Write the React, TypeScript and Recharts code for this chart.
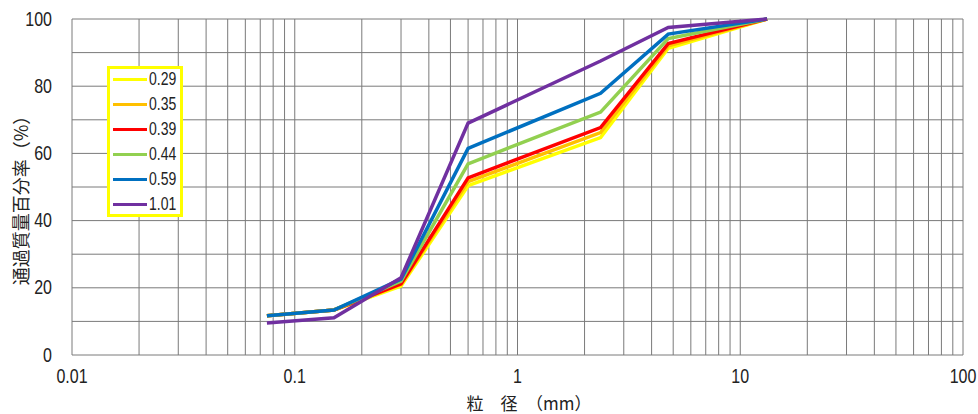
import React from "react";
import { LineChart, Line, XAxis, YAxis, ReferenceLine, Legend, Label } from "recharts";

// sieve sizes (mm)
const sizes = [0.075, 0.15, 0.3, 0.6, 2.36, 4.75, 13.2];

// passing percentage for each mix
const s029 = [11.7, 13.4, 20.5, 50.4, 64.7, 91.3, 100];
const s035 = [11.7, 13.4, 21.0, 51.6, 66.2, 92.0, 100];
const s039 = [11.7, 13.4, 21.2, 52.7, 67.7, 92.7, 100];
const s044 = [11.7, 13.4, 22.0, 56.9, 72.3, 94.2, 100];
const s059 = [11.7, 13.4, 22.6, 61.5, 77.9, 95.5, 100];
const s101 = [9.5, 11.1, 23.0, 69.0, 87.5, 97.5, 100];

const seriesNames = ["0.29", "0.35", "0.39", "0.44", "0.59", "1.01"];
const seriesColors = ["#ffff00", "#ffc000", "#ff0000", "#92d050", "#0070c0", "#7030a0"];
const seriesValues = [s029, s035, s039, s044, s059, s101];

const xTicks = [0.01, 0.1, 1, 10, 100];
const yTicks = [0, 20, 40, 60, 80, 100];
const yGrid = [0, 10, 20, 30, 40, 50, 60, 70, 80, 90, 100];
const decades = [0.01, 0.1, 1, 10];
const steps = [1, 2, 3, 4, 5, 6, 7, 8, 9];
const xGrid = [...decades.flatMap((d) => steps.map((s) => +(d * s).toPrecision(3))), 100];

const data = sizes.map((x, i) => {
  const row: Record<string, number> = { x };
  seriesNames.forEach((n, k) => (row["s" + k] = seriesValues[k][i]));
  return row;
});

const numFont = "'Liberation Sans', Arial, sans-serif";
const jpFont = "'Noto Sans CJK JP', sans-serif";
const gridColor = "#7a7a7a";
const textColor = "#222";

// the original uses a narrow face for numbers, so squeeze the digits a bit
const XTick = ({ x, payload }: any) => (
  <text
    transform={`translate(${x},383) scale(0.8,1)`}
    textAnchor="middle"
    fontFamily={numFont}
    fontSize={20}
    fill={textColor}
  >
    {String(payload.value)}
  </text>
);

const YTick = ({ y, payload }: any) => (
  <text
    transform={`translate(52,${y}) scale(0.8,1)`}
    textAnchor="end"
    dominantBaseline="central"
    fontFamily={numFont}
    fontSize={20}
    fill={textColor}
  >
    {String(payload.value)}
  </text>
);

function LegendBox() {
  return (
    <div
      style={{
        position: "relative",
        width: 76,
        height: 151,
        boxSizing: "border-box",
        border: "3px solid #ffff00",
        background: "#fff",
      }}
    >
      {seriesNames.map((n, i) => (
        <React.Fragment key={n}>
          <div
            style={{
              position: "absolute",
              left: 3,
              top: 8.5 + 25 * i,
              width: 34,
              height: 3.5,
              background: seriesColors[i],
            }}
          />
          <div
            style={{
              position: "absolute",
              left: 39,
              top: 0 + 25 * i,
              height: 20,
              lineHeight: "20px",
              fontFamily: numFont,
              fontSize: 17.5,
              color: textColor,
              transform: "scaleX(0.8)",
              transformOrigin: "left center",
            }}
          >
            {n}
          </div>
        </React.Fragment>
      ))}
    </div>
  );
}

export default function App() {
  return (
    <div style={{ position: "absolute", left: 0, top: 0, background: "#fff" }}>
      <LineChart width={978} height={414} data={data} margin={{ top: 19, right: 15, bottom: 29, left: 20 }}>
        <XAxis
          dataKey="x"
          type="number"
          scale="log"
          domain={[0.01, 100]}
          ticks={xTicks}
          interval={0}
          allowDataOverflow
          axisLine={false}
          tickLine={false}
          tickSize={0}
          height={30}
          tick={<XTick />}
        >
          <Label
            content={() => (
              <text x={529} y={410} textAnchor="middle" fontFamily={jpFont} fontSize={17} fill={textColor}>
                粒　径　（mm）
              </text>
            )}
          />
        </XAxis>
        <YAxis
          type="number"
          domain={[0, 100]}
          ticks={yTicks}
          interval={0}
          width={52}
          axisLine={false}
          tickLine={false}
          tickSize={0}
          tick={<YTick />}
        >
          <Label
            content={() => {
              const cx = 20;
              const cy = 196;
              return (
                <text
                  x={cx}
                  y={cy}
                  textAnchor="middle"
                  dominantBaseline="central"
                  transform={`rotate(-90 ${cx} ${cy})`}
                  fontFamily={jpFont}
                  fontSize={18}
                  fill={textColor}
                >
                  通過質量百分率（%）
                </text>
              );
            }}
          />
        </YAxis>
        {yGrid.map((v) => (
          <ReferenceLine key={"h" + v} y={v} stroke={gridColor} strokeWidth={1} />
        ))}
        {xGrid.map((v) => (
          <ReferenceLine key={"v" + v} x={v} stroke={gridColor} strokeWidth={1} />
        ))}
        <Legend
          layout="vertical"
          align="center"
          verticalAlign="middle"
          wrapperStyle={{ left: 107, top: 66, width: 76, height: 151 }}
          content={() => <LegendBox />}
        />
        {seriesNames.map((n, k) => (
          <Line
            key={n}
            dataKey={"s" + k}
            name={n}
            stroke={seriesColors[k]}
            strokeWidth={3.5}
            dot={false}
            isAnimationActive={false}
          />
        ))}
      </LineChart>
    </div>
  );
}
